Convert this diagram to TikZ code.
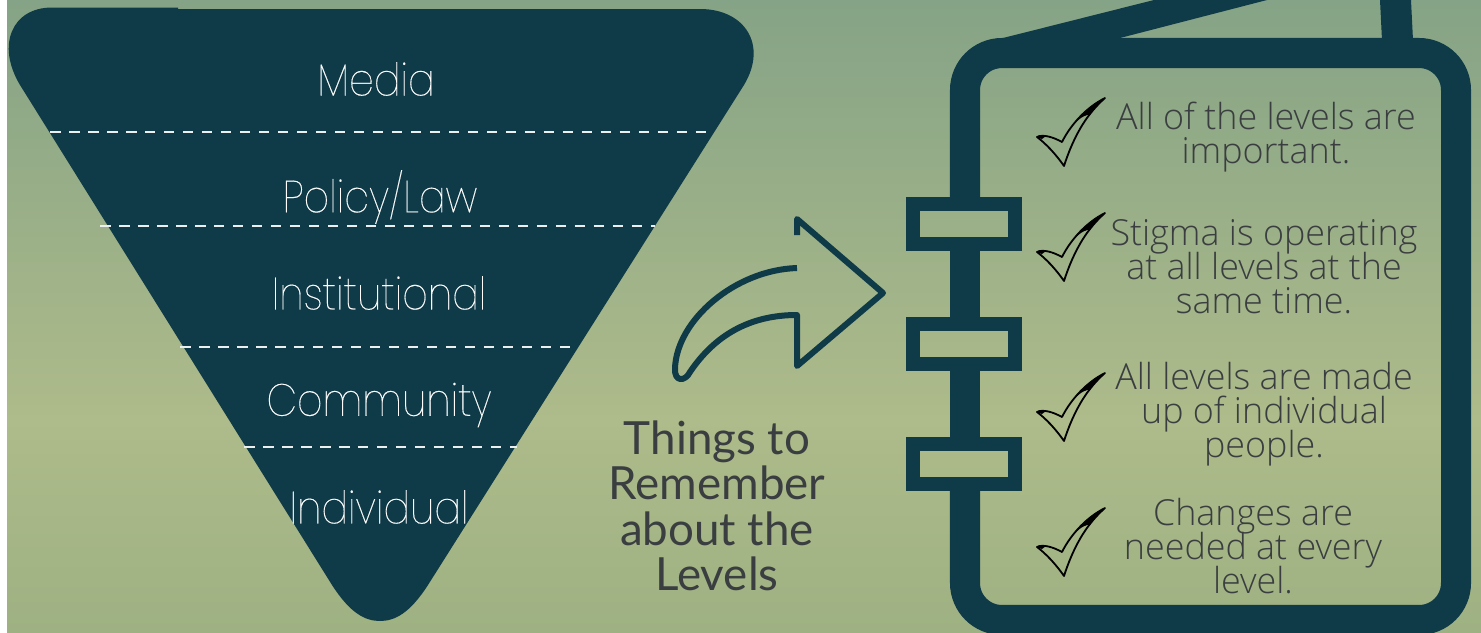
\documentclass[tikz,border=0pt]{standalone}
\usepackage{fontspec}
\setmainfont{Noto Sans}
\newfontfamily\levelfont[FakeStretch=0.88,FakeBold=0.35]{Poppins Thin}
\newfontfamily\titlefont{Lato}
\newfontfamily\notefont{Open Sans Light}
\usetikzlibrary{positioning}
\definecolor{darkteal}{RGB}{15, 58, 72}
\definecolor{bgtop}{RGB}{133, 163, 134}
\definecolor{bgmid}{RGB}{174, 187, 138}
\definecolor{bgbottom}{RGB}{158, 177, 130}
\definecolor{notegray}{RGB}{58, 62, 64}
\newcommand{\tightlines}{\lineskiplimit -5pt\relax}

\begin{document}
\begin{tikzpicture}[
    x=0.01cm, y=-0.01cm,
    levellabel/.style={text=white, font=\levelfont\fontsize{12.8}{15}\selectfont, inner sep=0pt},
    levelsplit/.style={draw=white!92!darkteal, line width=0.55pt, dash pattern=on 3pt off 2.4pt},
    bookline/.style={draw=darkteal, line width=0.3cm},
    ringbox/.style={draw=darkteal, line width=0.14cm},
    notelabel/.style={text=notegray, font=\notefont\fontsize{10.2}{9.66}\selectfont\tightlines, align=center, inner sep=0pt},
    checkmark/.pic={
        \draw[black, line width=0.018cm, line join=round] (0,0)
            .. controls (6,-3) and (16,0) .. (25,5)
            .. controls (34,-13) and (50,-30) .. (68,-39)
            .. controls (52,-25) and (38,-5) .. (27,29)
            .. controls (18,16) and (8,6) .. (0,0) -- cycle;
        \fill[black] (68,-39) .. controls (58,-35) and (48,-27) .. (38,-14)
            .. controls (44,-20) and (50,-23) .. (53,-22)
            .. controls (58,-29) and (63,-34) .. (68,-39) -- cycle;
        \fill[black] (0,0) .. controls (2,-3) and (6,-2) .. (9,-1) -- (5,2) -- cycle;
    }
]
    \useasboundingbox (0,0) rectangle (1481,633);
    % Background
    \fill[white] (0,0) rectangle (1481,633);
    \fill[top color=bgtop, bottom color=bgmid] (7,0) rectangle (1481,420);
    \fill[top color=bgmid, bottom color=bgbottom] (7,420) rectangle (1481,633);

    % Funnel
    \fill[darkteal] (52,7.5) -- (178,7.5) -- (178,9) -- (700,9)
        .. controls (745,9) and (768,45) .. (744,85)
        -- (428,585) .. controls (410,613) and (395,621) .. (380,621)
        .. controls (365,621) and (350,613) .. (332,585)
        -- (20,85) .. controls (-4,45) and (12,7.5) .. (52,7.5) -- cycle;

    % Levels
    \node[levellabel] (media) at (376,79) {Media};
    \node[levellabel] (policy) at (380,197) {Policy/Law};
    \node[levellabel] (institutional) at (379,293) {Institutional};
    \node[levellabel] (community) at (379,405) {Community};
    \node[levellabel] (individual) at (379,507) {Individual};

    % Splits
    \coordinate (split1a) at (50,132);
    \coordinate (split1b) at (714,132);
    \coordinate (split2a) at (100,226);
    \coordinate (split2b) at (655,226);
    \coordinate (split3a) at (180,347);
    \coordinate (split3b) at (570,347);
    \coordinate (split4a) at (244,447);
    \coordinate (split4b) at (517,447);
    \foreach \i in {1,2,3,4}
        \draw[levelsplit] (split\i a) -- (split\i b);

    % Arrow
    \draw[darkteal, line width=0.06cm, line join=round, line cap=butt]
        (797,268) .. controls (735,270) and (677,320) .. (675,368)
        .. controls (674,382) and (685,382) .. (690,372)
        .. controls (715,335) and (750,315) .. (797,315)
        -- (797,366) -- (883,293) -- (797,219) -- (797,235);

    % Things to remember
    \node[text=notegray, font=\titlefont\fontsize{13}{12.9}\selectfont\tightlines, align=center, inner sep=0pt] (things) at (717,506)
        {Things to\\Remember\\about the\\Levels};

    % Notebook
    \draw[bookline, rounded corners=0.37cm] (965,197) -- (965,53) -- (1456,53) -- (1456,620) -- (965,620) -- (965,491);
    \draw[bookline] (965,251) -- (965,317);
    \draw[bookline] (965,371) -- (965,437);
    \fill[darkteal] (1003,38) -- (1154,0) -- (1267,0) -- (1120,38) -- (1120,67) -- (1003,67) -- (986,71) -- cycle;
    \fill[darkteal] (1382,40) -- (1380,0) -- (1411,0) -- (1413,40) -- cycle;
    \foreach \y in {224,344,464}
        \draw[ringbox] (912.5,\y-20) rectangle (1014.5,\y+20);

    % Checks
    \foreach \y [count=\i] in {137,252,412,547}
        \pic (check\i) at (1037,\y) {checkmark};

    % Notes
    \node[notelabel] (note1) at (1266,137) {All of the levels are\\important.};
    \node[notelabel] (note2) at (1264,267) {Stigma is operating\\at all levels at the\\same time.};
    \node[notelabel] (note3) at (1264,414) {All levels are made\\up of individual\\people.};
    \node[notelabel] (note4) at (1253,546) {Changes are\\needed at every\\level.};
\end{tikzpicture}
\end{document}
